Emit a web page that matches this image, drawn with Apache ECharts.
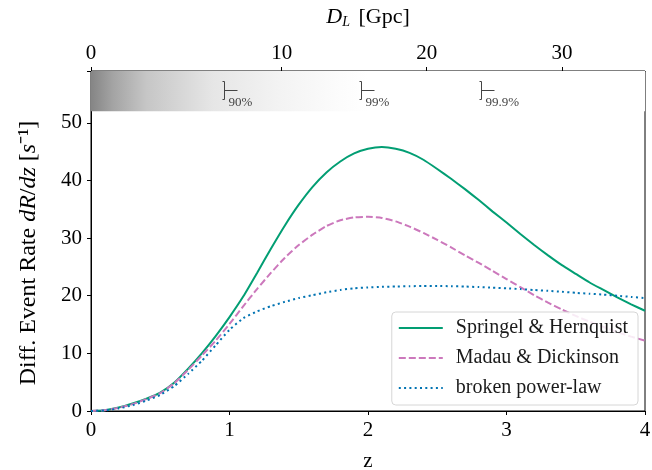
<!DOCTYPE html>
<html>
<head>
<meta charset="utf-8">
<script src="https://cdn.jsdelivr.net/npm/echarts@6/dist/echarts.min.js"></script>
<style>
  html, body { margin: 0; padding: 0; background: #fff; }
  #chart { width: 652px; height: 470px; }
</style>
</head>
<body>
<div id="chart"></div>
<script>
// redshift grid
var zValues = [0, 0.1, 0.2, 0.3, 0.4, 0.5, 0.6, 0.7, 0.8, 0.9, 1.0,
  1.1, 1.2, 1.3, 1.4, 1.5, 1.6, 1.7, 1.8, 1.9, 2.0,
  2.1, 2.2, 2.3, 2.4, 2.5, 2.6, 2.7, 2.8, 2.9, 3.0,
  3.1, 3.2, 3.3, 3.4, 3.5, 3.6, 3.7, 3.8, 3.9, 4.0];

var springel = [0, 0.15, 0.6, 1.3, 2.15, 3.2, 4.9, 7.3, 10.0, 13.0, 16.3,
  19.9, 24.0, 28.2, 32.2, 35.8, 38.9, 41.4, 43.3, 44.7, 45.5,
  45.8, 45.5, 44.8, 43.6, 42.0, 40.3, 38.5, 36.6, 34.6, 32.7,
  30.7, 28.8, 27.0, 25.3, 23.8, 22.3, 21.0, 19.7, 18.5, 17.4];

var madau = [0, 0.15, 0.55, 1.2, 2.05, 3.1, 4.8, 7.1, 9.6, 12.2, 15.1,
  18.2, 21.2, 24.0, 26.6, 28.8, 30.6, 32.1, 33.1, 33.6, 33.7,
  33.5, 32.9, 32.0, 30.9, 29.7, 28.4, 27.0, 25.7, 24.3, 22.9,
  21.5, 20.1, 18.8, 17.6, 16.5, 15.5, 14.6, 13.7, 12.9, 12.2];

var brokenPL = [0, 0.1, 0.45, 1.0, 1.8, 2.8, 4.3, 6.4, 8.7, 11.4, 14.1,
  16.1, 17.3, 18.2, 18.95, 19.6, 20.1, 20.6, 21.0, 21.3, 21.45,
  21.55, 21.6, 21.65, 21.7, 21.7, 21.65, 21.6, 21.5, 21.4, 21.3,
  21.15, 21.0, 20.85, 20.7, 20.5, 20.35, 20.2, 20.0, 19.8, 19.6];

// luminosity distance ticks (Gpc) and where they sit in z
var dlLabels = [0, 10, 20, 30];
var dlTickZ = [0, 1.377, 2.424, 3.40];

// detection-fraction markers
var markerZ = [0.960, 1.949, 2.816];
var markerText = ['90%', '99%', '99.9%'];

var font = 'Liberation Serif';

function pairs(ys) {
  return zValues.map(function (z, i) { return [z, ys[i]]; });
}

var myChart = echarts.init(document.getElementById('chart'));

var option = {
  animation: false,
  textStyle: { fontFamily: font },
  grid: {
    left: 91, right: 7, top: 71, bottom: 59,
    containLabel: false, outerBoundsMode: 'none',
    show: true, borderColor: '#000', borderWidth: 1, backgroundColor: 'transparent'
  },
  legend: {
    right: 14, top: 312,
    orient: 'vertical',
    itemWidth: 44, itemHeight: 14, itemGap: 10,
    padding: [6, 10, 7, 6],
    backgroundColor: 'rgba(255,255,255,0.85)',
    borderColor: '#d6d6d6', borderWidth: 1, borderRadius: 4,
    itemStyle: { opacity: 0 },
    textStyle: { fontFamily: font, fontSize: 20, color: '#1a1a1a', padding: [0, 0, 0, 8] },
    data: ['Springel & Hernquist', 'Madau & Dickinson', 'broken power-law']
  },
  xAxis: [{
    type: 'value', min: 0, max: 4, interval: 1,
    name: 'z', nameLocation: 'middle', nameGap: 40,
    nameTextStyle: { fontFamily: font, fontSize: 21, color: '#000' },
    axisLine: { lineStyle: { color: '#000', width: 1 } },
    axisTick: { show: true, length: 4, lineStyle: { color: '#000' } },
    axisLabel: { fontFamily: font, fontSize: 21, color: '#000', margin: 9 },
    splitLine: { show: false }
  }, {
    type: 'value', min: 0, max: 4, position: 'top',
    name: '{i|D}{sub|L} [Gpc]', nameLocation: 'middle', nameGap: 42,
    nameTextStyle: {
      fontFamily: font, fontSize: 22, color: '#000',
      rich: {
        i: { fontFamily: font, fontSize: 22, fontStyle: 'italic' },
        sub: { fontFamily: font, fontSize: 14, fontStyle: 'italic', padding: [10, 3, 0, 0] }
      }
    },
    axisLine: { lineStyle: { color: '#000', width: 1 } },
    axisTick: { show: true, length: 4, customValues: dlTickZ, lineStyle: { color: '#000' } },
    axisLabel: {
      fontFamily: font, fontSize: 21, color: '#000', margin: 7,
      customValues: dlTickZ,
      formatter: function (v) {
        var best = 0;
        dlTickZ.forEach(function (t, i) { if (Math.abs(t - v) < Math.abs(dlTickZ[best] - v)) best = i; });
        return String(dlLabels[best]);
      }
    },
    splitLine: { show: false }
  }],
  yAxis: {
    type: 'value', min: 0, max: 59, interval: 10,
    name: 'Diff. Event Rate {i|dR}/{i|dz} [{i|s}⁻¹]',
    nameLocation: 'middle', nameGap: 50, nameRotate: 90,
    nameTextStyle: {
      fontFamily: font, fontSize: 24, color: '#000',
      padding: [0, 24, 0, 0],
      rich: { i: { fontFamily: font, fontSize: 24, fontStyle: 'italic' } }
    },
    axisLine: { show: true, lineStyle: { color: '#000', width: 1 } },
    axisTick: { show: true, length: 4, lineStyle: { color: '#000' } },
    axisLabel: {
      fontFamily: font, fontSize: 21, color: '#000', margin: 9,
      formatter: function (v) { return v % 10 === 0 ? String(v) : ''; }
    },
    splitLine: { show: false }
  },
  series: [{
    name: 'Springel & Hernquist', type: 'line', smooth: 0.15,
    symbol: 'none', data: pairs(springel),
    lineStyle: { color: '#029e73', width: 2 },
    itemStyle: { color: '#029e73' },
    markArea: {
      silent: true,
      itemStyle: {
        color: new echarts.graphic.LinearGradient(0, 0, 1, 0, [
          { offset: 0, color: '#858585' },
          { offset: 0.04, color: '#a4a4a4' },
          { offset: 0.1, color: '#c6c6c6' },
          { offset: 0.22, color: '#e6e6e6' },
          { offset: 0.34, color: '#f3f3f3' },
          { offset: 0.45, color: '#fcfcfc' },
          { offset: 0.5, color: '#ffffff' },
          { offset: 1, color: '#ffffff' }
        ])
      },
      data: [[{ xAxis: 0, yAxis: 52.0 }, { xAxis: 4, yAxis: 59 }]]
    }
  }, {
    name: 'Madau & Dickinson', type: 'line', smooth: 0.15,
    symbol: 'none', data: pairs(madau),
    lineStyle: { color: '#cc78bc', width: 2, type: [7, 3] },
    itemStyle: { color: '#cc78bc' }
  }, {
    name: 'broken power-law', type: 'line', smooth: 0.15,
    symbol: 'none', data: pairs(brokenPL),
    lineStyle: { color: '#0173b2', width: 2, type: [2, 3.3] },
    itemStyle: { color: '#0173b2' }
  }, {
    name: 'markers', type: 'custom', silent: true,
    data: markerZ.map(function (z, i) { return [z, 55.7, markerText[i]]; }),
    renderItem: function (params, api) {
      var p = api.coord([api.value(0), api.value(1)]);
      var x = Math.round(p[0]) + 0.5, y = Math.round(p[1]) + 0.5;
      var stroke = { stroke: '#444', lineWidth: 1 };
      return {
        type: 'group',
        children: [
          { type: 'line', shape: { x1: x, y1: y - 9, x2: x, y2: y + 9 }, style: stroke },
          { type: 'line', shape: { x1: x - 2, y1: y - 9, x2: x, y2: y - 9 }, style: stroke },
          { type: 'line', shape: { x1: x - 2, y1: y + 9, x2: x, y2: y + 9 }, style: stroke },
          { type: 'line', shape: { x1: x, y1: y, x2: x + 13, y2: y }, style: stroke },
          {
            type: 'text',
            style: {
              x: x + 4, y: y + 12, text: markerText[params.dataIndex],
              fontFamily: font, fontSize: 13, fill: '#444',
              verticalAlign: 'middle', align: 'left'
            }
          }
        ]
      };
    }
  }]
};

myChart.setOption(option);

window.addEventListener('resize', function () {
  myChart.resize();
});
</script>
</body>
</html>
